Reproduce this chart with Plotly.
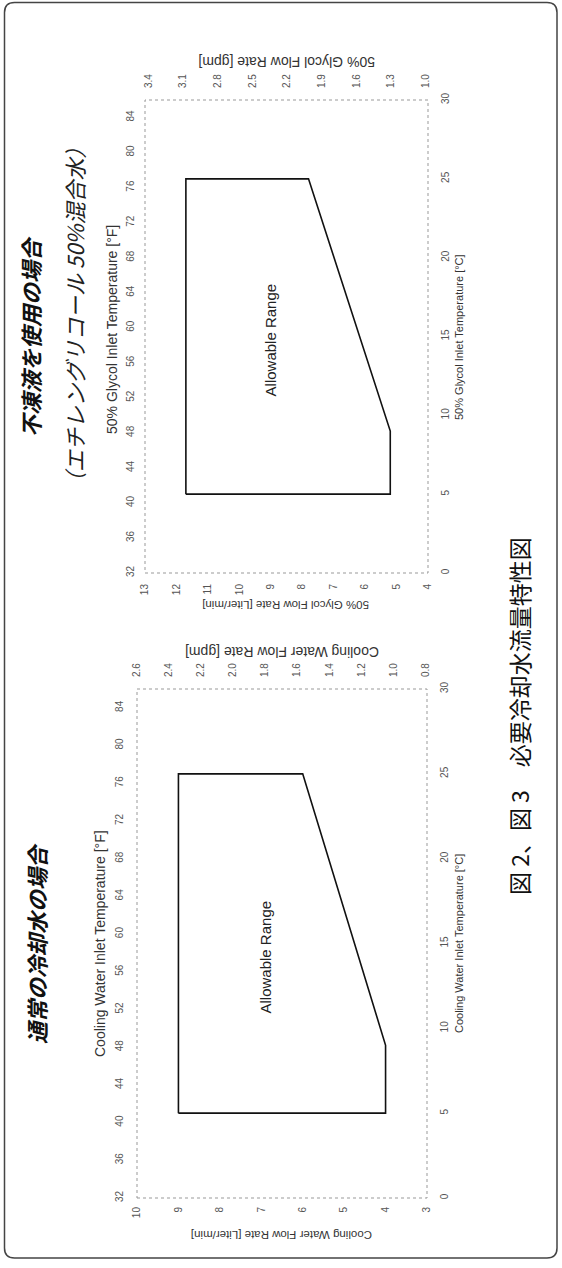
import plotly.graph_objects as go

W, H = 562, 1268

# ---------------- data ----------------
water_flow = [9, 4, 4, 6, 9, 9]          # Liter/min
water_temp = [5, 5, 9, 25, 25, 5]        # deg C
glycol_flow = [11.7, 5.2, 5.2, 7.8, 11.7, 11.7]
glycol_temp = [5, 5, 9, 25, 25, 5]

water_lpm_ticks = [3, 4, 5, 6, 7, 8, 9, 10]
water_gpm_ticks = [0.8, 1.0, 1.2, 1.4, 1.6, 1.8, 2.0, 2.2, 2.4, 2.6]
glycol_lpm_ticks = [4, 5, 6, 7, 8, 9, 10, 11, 12, 13]
glycol_gpm_ticks = [1.0, 1.3, 1.6, 1.9, 2.2, 2.5, 2.8, 3.1, 3.4]
temp_c_ticks = [0, 5, 10, 15, 20, 25, 30]
temp_f_ticks = [32, 36, 40, 44, 48, 52, 56, 60, 64, 68, 72, 76, 80, 84]


def px(x):
    return x / W


def py(y):
    return 1 - y / H


FONT = "Liberation Sans, Arial, sans-serif"
JP = "Noto Sans CJK JP, sans-serif"
TICKC = "#555"

fig = go.Figure()

# polygons
fig.add_trace(go.Scatter(x=water_flow, y=water_temp, mode="lines",
                         line=dict(color="#111", width=1.6),
                         xaxis="x", yaxis="y", showlegend=False, hoverinfo="skip"))
fig.add_trace(go.Scatter(x=[], y=[], xaxis="x2", yaxis="y2", showlegend=False))
fig.add_trace(go.Scatter(x=glycol_flow, y=glycol_temp, mode="lines",
                         line=dict(color="#111", width=1.6),
                         xaxis="x3", yaxis="y3", showlegend=False, hoverinfo="skip"))
fig.add_trace(go.Scatter(x=[], y=[], xaxis="x4", yaxis="y4", showlegend=False))


def axstyle(ticklen, **kw):
    d = dict(showgrid=False, zeroline=False, showline=False,
             ticks="outside", ticklen=ticklen, tickcolor="rgba(0,0,0,0)",
             tickangle=-90, tickfont=dict(family=FONT, size=10, color=TICKC),
             fixedrange=True)
    d.update(kw)
    return d


# bottom chart (normal water)
bx = [px(137), px(427)]
by = [py(1198), py(689)]
# top chart (glycol)
tx = [px(145), px(428)]
ty = [py(573), py(100)]

fig.update_layout(
    xaxis=axstyle(4, domain=bx, anchor="y", side="bottom", range=[10, 3],
                  tickvals=water_lpm_ticks),
    yaxis=axstyle(8, domain=by, anchor="x", side="right", range=[0, 30],
                  tickvals=temp_c_ticks),
    xaxis2=axstyle(9, domain=bx, anchor="y", overlaying="x", side="top",
                   range=[2.6, 0.79], tickvals=water_gpm_ticks, tickformat=".1f"),
    yaxis2=axstyle(9, domain=by, anchor="x", overlaying="y", side="left",
                   range=[32, 86], tickvals=temp_f_ticks),
    xaxis3=axstyle(6, domain=tx, anchor="y3", side="bottom", range=[13, 4],
                   tickvals=glycol_lpm_ticks),
    yaxis3=axstyle(8, domain=ty, anchor="x3", side="right", range=[0, 30],
                   tickvals=temp_c_ticks),
    xaxis4=axstyle(9, domain=tx, anchor="y3", overlaying="x3", side="top",
                   range=[3.43, 0.98], tickvals=glycol_gpm_ticks, tickformat=".1f"),
    yaxis4=axstyle(6, domain=ty, anchor="x3", overlaying="y3", side="left",
                   range=[32, 86], tickvals=temp_f_ticks),
)

shapes = []
# dotted plot borders
for xr, yr in (("x", "y"), ("x3", "y3")):
    shapes.append(dict(type="rect", xref=xr + " domain", yref=yr + " domain",
                       x0=0, x1=1, y0=0, y1=1,
                       line=dict(color="#999", width=1, dash="dot")))

# rounded outer frame
L, R, T, B, r = 4.5, 557, 2.5, 1258, 10
path = (f"M {px(L + r)},{py(T)} L {px(R - r)},{py(T)} "
        f"Q {px(R)},{py(T)} {px(R)},{py(T + r)} "
        f"L {px(R)},{py(B - r)} Q {px(R)},{py(B)} {px(R - r)},{py(B)} "
        f"L {px(L + r)},{py(B)} Q {px(L)},{py(B)} {px(L)},{py(B - r)} "
        f"L {px(L)},{py(T + r)} Q {px(L)},{py(T)} {px(L + r)},{py(T)} Z")
shapes.append(dict(type="path", xref="paper", yref="paper", path=path,
                   line=dict(color="#444", width=1.5)))

annotations = []


def ann(text, x, y, angle, size, color="#333", family=FONT, **kw):
    annotations.append(dict(text=text, x=px(x), y=py(y), xref="paper", yref="paper",
                            textangle=angle, showarrow=False, xanchor="center",
                            yanchor="middle",
                            font=dict(family=family, size=size, color=color), **kw))


# bottom chart texts
ann("Cooling Water Inlet Temperature [°F]", 100, 944, -90, 14)
ann("Cooling Water Inlet Temperature [°C]", 459, 944, -90, 11)
ann("Cooling Water Flow Rate [Liter/min]", 282, 1235, 180, 11.5)
ann("Cooling Water Flow Rate [gpm]", 282, 652, 180, 14)
ann("<b><i>通常の冷却水の場合</i></b>", 36, 944, -90, 22, color="#111", family=JP)

# top chart texts
ann("50% Glycol Inlet Temperature [°F]", 112, 330, -90, 14)
ann("50% Glycol Inlet Temperature [°C]", 459, 337, -90, 11)
ann("50% Glycol Flow Rate [Liter/min]", 286, 605, 180, 11.5)
ann("50% Glycol Flow Rate [gpm]", 287, 62, 180, 14)
ann("<b><i>不凍液を使用の場合</i></b>", 30, 337, -90, 22, color="#111", family=JP)
ann("<i>（エチレングリコール 50%混合水）</i>", 74, 315, -90, 22, color="#222", family=JP)

# caption
ann("図 2、図 3　必要冷却水流量特性図", 519, 716, -90, 23, color="#111", family=JP)

# Allowable Range labels (data coords)
annotations.append(dict(text="Allowable Range", x=6.9, y=14.2, xref="x", yref="y",
                        textangle=-90, showarrow=False,
                        font=dict(family=FONT, size=15, color="#222")))
annotations.append(dict(text="Allowable Range", x=9.0, y=14.8, xref="x3", yref="y3",
                        textangle=-90, showarrow=False,
                        font=dict(family=FONT, size=15, color="#222")))

fig.update_layout(
    width=W, height=H,
    margin=dict(l=0, r=0, t=0, b=0, autoexpand=False),
    paper_bgcolor="white", plot_bgcolor="white",
    shapes=shapes, annotations=annotations,
    showlegend=False,
)

fig.write_html("out.html", config={"displayModeBar": False})
